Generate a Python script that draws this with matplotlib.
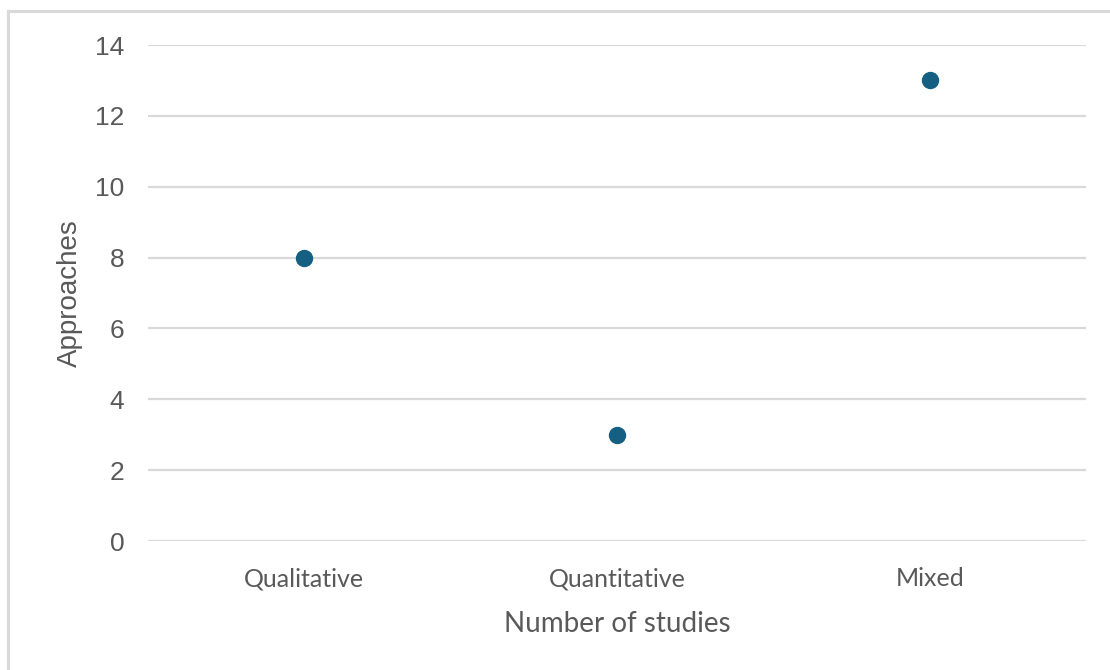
import matplotlib
matplotlib.use("Agg")
import matplotlib.pyplot as plt
from matplotlib.lines import Line2D

# Study approaches and their counts
categories = ["Qualitative", "Quantitative", "Mixed"]
counts = [8, 3, 13]
y_ticks = [0, 2, 4, 6, 8, 10, 12, 14]

grey_text = "#595959"
grid_col = "#d9d9d9"
marker_col = "#156082"

fig = plt.figure(figsize=(11.1, 6.7), dpi=100)
ax = fig.add_axes([0.1333, 0.1925, 0.8451, 0.7403])

positions = list(range(1, len(categories) + 1))
ax.plot(positions, counts, linestyle="none", marker="o", markersize=11.5,
        color=marker_col, zorder=3, clip_on=False)

ax.set_xlim(0.5, len(categories) + 0.5)
ax.set_ylim(0, 14)
ax.set_yticks(y_ticks)
ax.set_yticklabels([str(v) for v in y_ticks], family="Liberation Sans",
                   fontsize=19, color=grey_text)
ax.set_xticks(positions)
ax.set_xticklabels(categories, family="Lato", fontsize=18, color=grey_text)

ax.grid(axis="y", color=grid_col, linewidth=1.6)
ax.set_axisbelow(True)
for s in ax.spines.values():
    s.set_visible(False)
ax.tick_params(axis="both", length=0)
ax.tick_params(axis="y", pad=17)
ax.tick_params(axis="x", pad=19)

ax.set_xlabel("Number of studies", family="Lato", fontsize=20, color=grey_text,
              labelpad=15)
ax.set_ylabel("Approaches", family="Liberation Sans", fontsize=20,
              color=grey_text, labelpad=9)

# Light frame along the top and left of the chart area
fig.add_artist(Line2D([8 / 1110, 1.0], [1 - 11 / 670, 1 - 11 / 670],
                      transform=fig.transFigure, color=grid_col, linewidth=2.2))
fig.add_artist(Line2D([8 / 1110, 8 / 1110], [0.0, 1 - 11 / 670],
                      transform=fig.transFigure, color=grid_col, linewidth=2.2))

fig.savefig("out.png", dpi=100, facecolor="white")
